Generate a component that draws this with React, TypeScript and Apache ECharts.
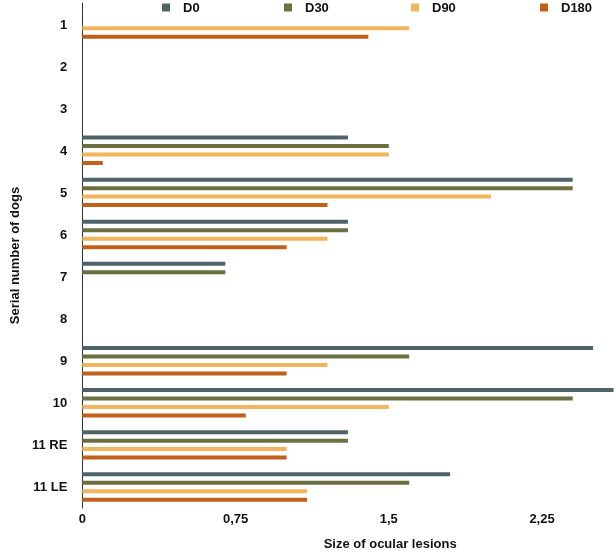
import React, { useEffect, useRef } from "react";
import * as echarts from "echarts";

const categories = ["1", "2", "3", "4", "5", "6", "7", "8", "9", "10", "11 RE", "11 LE"];
const seriesNames = ["D0", "D30", "D90", "D180"];
const d0 = [0, 0, 0, 1.3, 2.4, 1.3, 0.7, 0, 2.5, 2.6, 1.3, 1.8];
const d30 = [0, 0, 0, 1.5, 2.4, 1.3, 0.7, 0, 1.6, 2.4, 1.3, 1.6];
const d90 = [1.6, 0, 0, 1.5, 2.0, 1.2, 0, 0, 1.2, 1.5, 1.0, 1.1];
const d180 = [1.4, 0, 0, 0.1, 1.2, 1.0, 0, 0, 1.0, 0.8, 1.0, 1.1];
const xTicks = [0, 0.75, 1.5, 2.25];
const colors = ["#4e6469", "#6b7040", "#f1b55b", "#c0601b"];

const FONT = "'Liberation Sans', Arial, Helvetica, sans-serif";

export default function App() {
  const ref = useRef<HTMLDivElement>(null);
  useEffect(() => {
    if (!ref.current) return;
    const chart = echarts.init(ref.current, undefined, { renderer: "svg" });
    const values = [d0, d30, d90, d180];
    const legendLefts = [162, 284, 411, 540];
    chart.setOption({
      animation: false,
      textStyle: { fontFamily: FONT },
      legend: seriesNames.map((n, i) => ({
        data: [n],
        left: legendLefts[i],
        top: 1,
        padding: 0,
        icon: "rect",
        itemWidth: 8,
        itemHeight: 8,
        textStyle: {
          fontFamily: FONT,
          fontWeight: "bold",
          fontSize: 13,
          color: "#111",
          padding: [0, 0, 0, 8],
        },
        selectedMode: false,
      })),
      grid: { left: 75, right: 0, top: 3, bottom: 42, containLabel: false },
      xAxis: {
        type: "value",
        min: 0,
        max: 2.612,
        interval: 0.75,
        splitLine: { show: false },
        axisLine: { show: false },
        axisTick: { show: false },
        axisLabel: {
          showMaxLabel: false,
          margin: 4,
          fontFamily: FONT,
          fontWeight: "bold",
          fontSize: 13,
          color: "#111",
          formatter: (v: number) =>
            xTicks.some((t) => Math.abs(t - v) < 1e-9) ? String(v).replace(".", ",") : "",
        },
        name: "Size of ocular lesions",
        nameLocation: "middle",
        nameGap: 29,
        nameTextStyle: {
          fontFamily: FONT,
          fontWeight: "bold",
          fontSize: 13,
          color: "#111",
          padding: [0, 0, 0, 82],
        },
      },
      yAxis: {
        type: "category",
        data: categories,
        inverse: true,
        axisLine: { show: true, lineStyle: { color: "#333", width: 1 } },
        axisTick: { show: false },
        splitLine: { show: false },
        axisLabel: {
          margin: 15,
          fontFamily: FONT,
          fontWeight: "bold",
          fontSize: 13,
          color: "#111",
        },
        name: "Serial number of dogs",
        nameLocation: "middle",
        nameGap: 58,
        nameTextStyle: {
          fontFamily: FONT,
          fontWeight: "bold",
          fontSize: 13,
          color: "#111",
        },
      },
      series: seriesNames.map((n, i) => ({
        name: n,
        type: "bar",
        data: values[i],
        barWidth: 4,
        barGap: "112%",
        itemStyle: { color: colors[i] },
      })),
    });
    return () => chart.dispose();
  }, []);
  return (
    <div
      ref={ref}
      style={{ position: "fixed", left: 0, top: 0, width: 616, height: 555 }}
    />
  );
}
